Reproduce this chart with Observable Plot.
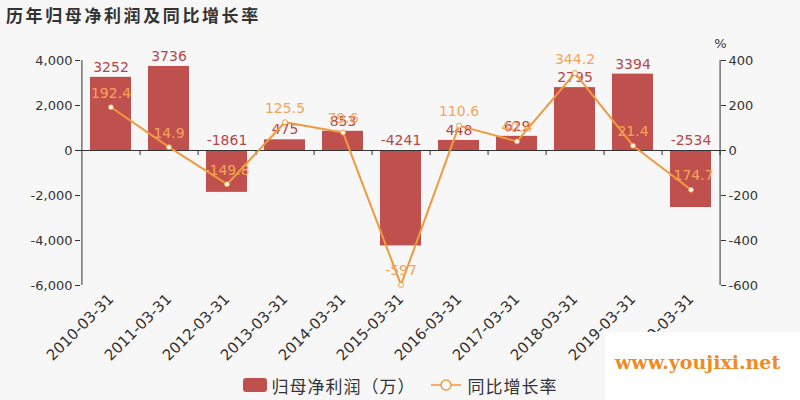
<!DOCTYPE html>
<html>
<head>
<meta charset="utf-8">
<script src="https://cdn.jsdelivr.net/npm/d3@7"></script>
<script src="https://cdn.jsdelivr.net/npm/@observablehq/plot@0.6"></script>
<style>
  html, body { margin: 0; padding: 0; background: #f7f7f7; }
  body { width: 800px; height: 400px; position: relative; overflow: hidden;
         font-family: "DejaVu Sans", "Noto Sans CJK SC", sans-serif; }
  #title { height: 30px; line-height: 30px; padding-left: 6px; font-size: 17px; font-weight: bold; color: #333;
           font-family: "Noto Sans CJK SC", sans-serif; letter-spacing: 2.6px; }
  #legend { height: 30px; display: flex; align-items: center; justify-content: center; font-size: 17px; color: #333;
            font-family: "Noto Sans CJK SC", sans-serif; gap: 5px; padding-right: 0px; letter-spacing: 1px;
            position: relative; z-index: 1; }
  .sw { display: inline-block; width: 24px; height: 14px; background: #c0504d; border-radius: 3px; }
  #wm { position: absolute; left: 605px; top: 332px; width: 195px; height: 68px; background: #fff;
        color: #f08a24; font: bold 19px "DejaVu Serif", serif; padding: 22px 0 0 10px; line-height: 16px; box-sizing: border-box; }
</style>
</head>
<body>
<div id="title">历年归母净利润及同比增长率</div>
<div id="chart"></div>
<div id="legend">
  <span class="sw"></span><span>归母净利润（万）</span>
  <svg width="34" height="14" style="margin-left:8px"><line x1="2" x2="32" y1="7" y2="7" stroke="#f0993e" stroke-width="1.5"/><circle cx="17" cy="7" r="5" fill="#fff" stroke="#f0993e" stroke-width="1.5"/></svg>
  <span>同比增长率</span>
</div>
<div id="wm">www.youjixi.net</div>
<script>
const dates = ["2010-03-31","2011-03-31","2012-03-31","2013-03-31","2014-03-31","2015-03-31","2016-03-31","2017-03-31","2018-03-31","2019-03-31","2020-03-31"];
const profit = [3252, 3736, -1861, 475, 853, -4241, 448, 629, 2795, 3394, -2534];
const growth = [192.4, 14.9, -149.8, 125.5, 79.6, -597, 110.6, 40.4, 344.2, 21.4, -174.7];
const leftTicks = [-6000, -4000, -2000, 0, 2000, 4000];
const rightTicks = [-600, -400, -200, 0, 200, 400];

const data = dates.map((d, i) => ({date: d, profit: profit[i], growth: growth[i]}));
const ratio = 10; // right axis scaling: 400% <-> 4000

const W = 800, H = 340, mL = 80, mR = 80, mT = 30, mB = 85;
const step = (W - mL - mR) / dates.length;
const fmt = v => v.toLocaleString("en-US");
const barColor = "#c0504d", lineColor = "#f0993e";

const chart = Plot.plot({
  width: W, height: H,
  marginLeft: mL, marginRight: mR, marginTop: mT, marginBottom: mB,
  style: {background: "transparent", fontFamily: "DejaVu Sans, sans-serif", fontSize: "13px", color: "#333", overflow: "visible"},
  x: {domain: dates, paddingInner: 0.3, paddingOuter: 0.15, label: null},
  y: {domain: [-6000, 4000], label: null},
  marks: [
    Plot.barY(data, {x: "date", y: "profit", fill: barColor}),
    Plot.ruleY([0], {stroke: "#333", strokeWidth: 1.2}),
    // band boundary ticks on the zero line
    Plot.ruleX(data, {x: "date", dx: step / 2, y1: 0, y2: 0, insetTop: 0, insetBottom: -5, stroke: "#333"}),
    // axis lines
    Plot.ruleX([dates[0]], {x: d => d, dx: -step / 2, y1: leftTicks[0], y2: leftTicks[leftTicks.length - 1], stroke: "#333"}),
    Plot.ruleX([dates[dates.length - 1]], {x: d => d, dx: step / 2, y1: leftTicks[0], y2: leftTicks[leftTicks.length - 1], stroke: "#333"}),
    Plot.axisY(leftTicks, {anchor: "left", tickFormat: fmt, tickSize: 5, tickPadding: 3, fontSize: 13, label: null}),
    Plot.axisY(rightTicks.map(t => t * ratio), {anchor: "right", tickFormat: v => fmt(v / ratio), tickSize: 5, tickPadding: 3, fontSize: 13, label: null}),
    Plot.text(["%"], {frameAnchor: "top-right", dx: 0, dy: -22, text: d => d, fontSize: 13, fill: "#333", textAnchor: "middle"}),
    Plot.axisX({anchor: "bottom", tickRotate: -45, tickSize: 0, tickPadding: 11, fontSize: 15, label: null}),
    Plot.text(data, {x: "date", y: d => Math.max(d.profit, 0), text: d => String(d.profit), dy: -10, fill: "#b5474b", fontSize: 14}),
    Plot.line(data, {x: "date", y: d => d.growth * ratio, stroke: lineColor, strokeWidth: 2}),
    Plot.dot(data, {x: "date", y: d => d.growth * ratio, r: 2.5, fill: "#fff", stroke: lineColor, strokeWidth: 1}),
    Plot.text(data, {x: "date", y: d => d.growth * ratio, text: d => String(d.growth), dy: -14, fill: "#f5a55a", fontSize: 14})
  ]
});
document.getElementById("chart").appendChild(chart);
</script>
</body>
</html>
